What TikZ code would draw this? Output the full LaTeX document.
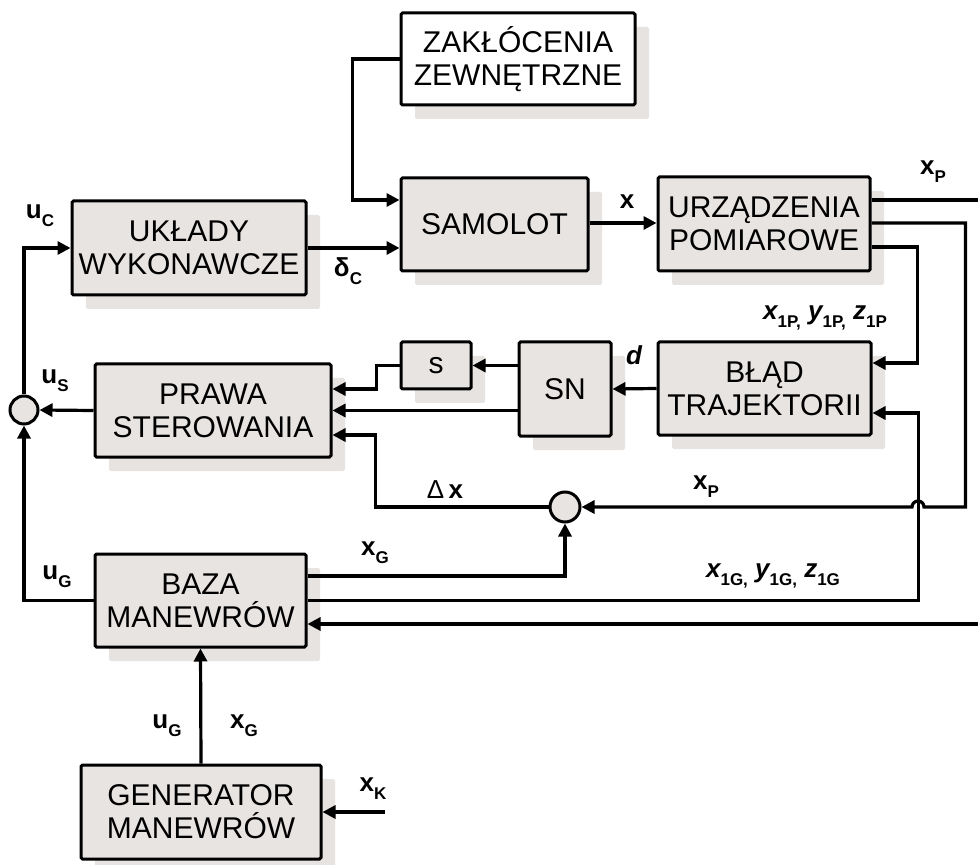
\documentclass[tikz,border=0pt]{standalone}
\usepackage{fontspec}
\setmainfont{Liberation Sans}
\usetikzlibrary{arrows.meta, positioning, shadows}
\definecolor{boxgray}{RGB}{232,228,226}
\definecolor{shadegray}{RGB}{230,227,225}
\newcommand{\lsub}[1]{\raisebox{-0.6ex}{\fontsize{8.5}{9}\selectfont\bfseries\upshape #1}}

\begin{document}
\begin{tikzpicture}[x=0.5pt, y=-0.5pt,
    >={Triangle[length=6.5pt, width=6.5pt]},
    block/.style={draw, line width=1.5pt, fill=boxgray, align=center, rounded corners=0.8pt,
      font=\fontsize{15}{16.5}\selectfont, inner sep=0pt,
      drop shadow={shadow xshift=7pt, shadow yshift=-7pt, fill=shadegray, opacity=1}},
    sumnode/.style={circle, draw, line width=1.5pt, fill=boxgray, minimum size=14pt, inner sep=0pt},
    sig/.style={line width=1.6pt},
    lab/.style={font=\fontsize{13}{14}\selectfont\bfseries, inner sep=1pt},
  ]
  \useasboundingbox (0,0) rectangle (978,865);

  % blocks
  \node[block, fill=white, minimum width=117pt, minimum height=46pt] (zak) at (518,59) {ZAKŁÓCENIA\\ZEWNĘTRZNE};
  \node[block, minimum width=93.5pt, minimum height=46.5pt] (samolot) at (494.5,224.5) {SAMOLOT};
  \node[block, minimum width=106pt, minimum height=47pt] (urz) at (764,224) {URZĄDZENIA\\POMIAROWE};
  \node[block, minimum width=117pt, minimum height=47pt] (uklady) at (189,248) {UKŁADY\\WYKONAWCZE};
  \node[block, minimum width=118pt, minimum height=46.5pt] (prawa) at (213,410.5) {PRAWA\\STEROWANIA};
  \node[block, minimum width=35pt, minimum height=23.5pt] (sblk) at (436,365.5) {s};
  \node[block, minimum width=46pt, minimum height=47pt] (sn) at (565,389) {SN};
  \node[block, minimum width=106.5pt, minimum height=46.5pt] (blad) at (764.5,388.5) {BŁĄD\\TRAJEKTORII};
  \node[block, minimum width=105.5pt, minimum height=46.5pt] (baza) at (200.5,600.5) {BAZA\\MANEWRÓW};
  \node[block, minimum width=120pt, minimum height=47pt] (gen) at (201,812) {GENERATOR\\MANEWRÓW};
  \node[sumnode] (sumL) at (24,410) {};
  \node[sumnode, minimum size=15pt] (sumM) at (565,507) {};

  \coordinate (xpout) at (978,200);
  \coordinate (bazaext) at (978,624);
  \coordinate (xkin) at (385,812);

  % forward path
  \draw[sig, ->] (zak.west) -- ++(-47,0) |- (samolot.west |- 0,200);
  \draw[sig, ->] (uklady.east) -- (samolot.west |- uklady.east);
  \draw[sig, ->] (samolot.east |- 0,223) -- (urz.west |- 0,223);
  \draw[sig] (urz.east |- xpout) -- (xpout);
  \draw[sig, ->] (urz.east |- 0,247) -- ++(46,0) |- (blad.east |- 0,363);
  \draw[sig, ->] (urz.east |- 0,223) -- ++(94,0) -- ++(0,284) -- (924,507)
    arc[start angle=0, end angle=-180, radius=6] -- (sumM.east);
  % inner loop
  \draw[sig, ->] (blad.west) -- (sn.east);
  \draw[sig, ->] (sn.west |- sblk.east) -- (sblk.east);
  \draw[sig, ->] (sblk.west) -- ++(-23,0) |- (prawa.east |- 0,389);
  \draw[sig, ->] (sn.west |- prawa.east) -- (prawa.east);
  \draw[sig, ->] (sumM.west) -- ++(-173,0) |- (prawa.east |- 0,435);
  % maneuver base
  \draw[sig, ->] (baza.east |- 0,576) -| (sumM.south);
  \draw[sig, ->] (baza.east) -- ++(611,0) |- (blad.east |- 0,413);
  \draw[sig, ->] (bazaext) -- (baza.east |- bazaext);
  \draw[sig, ->] (baza.west) -| (sumL.south);
  \draw[sig, ->] (prawa.west) -- (sumL.east);
  \draw[sig, ->] (sumL.north) |- (uklady.west);
  \draw[sig, ->] (gen.north) -- (baza.south);
  \draw[sig, ->] (xkin) -- (gen.east);

  % labels
  \node[lab] (lxp) at (933,172) {x\lsub{P}};
  \node[lab] (lx) at (627,202) {x};
  \node[lab] (ldc) at (348,271) {δ\lsub{C}};
  \node[lab] (luc) at (40,216) {u\lsub{C}};
  \node[lab] (lus) at (55,381) {u\lsub{S}};
  \node[lab] (lug) at (57,577) {u\lsub{G}};
  \node[lab] (l1p) at (825,318) {\itshape x\lsub{1P,} y\lsub{1P,} z\lsub{1P}};
  \node[lab] (ld) at (634,355) {\itshape d};
  \node[lab] (ldx) at (445,490) {{\mdseries Δ}\,x};
  \node[lab] (lxpm) at (706,487) {x\lsub{P}};
  \node[lab] (lxg) at (375,553) {x\lsub{G}};
  \node[lab] (l1g) at (773,576) {\itshape x\lsub{1G,} y\lsub{1G,} z\lsub{1G}};
  \node[lab] (lugb) at (167,726) {u\lsub{G}};
  \node[lab] (lxgb) at (244,726) {x\lsub{G}};
  \node[lab] (lxk) at (373,789) {x\lsub{K}};
\end{tikzpicture}
\end{document}
